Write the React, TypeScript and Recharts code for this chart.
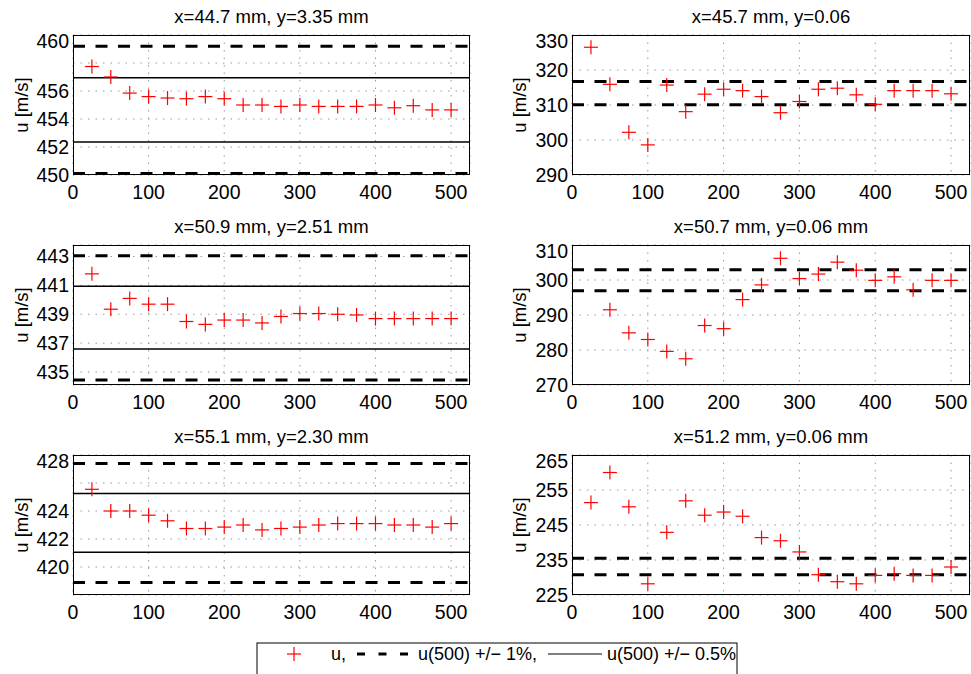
import { ScatterChart, Scatter, XAxis, YAxis, CartesianGrid, ReferenceLine } from "recharts";

// sample counts (x axis)
const steps = [25, 50, 75, 100, 125, 150, 175, 200, 225, 250, 275, 300, 325, 350, 375, 400, 425, 450, 475, 500];
const xTicks = [0, 100, 200, 300, 400, 500];

const titles = [
  "x=44.7 mm, y=3.35 mm",
  "x=45.7 mm, y=0.06",
  "x=50.9 mm, y=2.51 mm",
  "x=50.7 mm, y=0.06 mm",
  "x=55.1 mm, y=2.30 mm",
  "x=51.2 mm, y=0.06 mm",
];

// u [m/s], one list per probe
const u447 = [457.75, 457.0, 455.85, 455.6, 455.5, 455.45, 455.6, 455.45, 455.0, 455.0, 454.9, 455.0, 454.9, 454.9, 454.9, 455.0, 454.8, 454.95, 454.65, 454.65];
const u457 = [326.5, 315.9, 302.2, 298.6, 315.7, 308.1, 313.1, 314.5, 314.1, 312.4, 307.8, 311.0, 314.5, 314.8, 312.9, 310.2, 314.1, 314.1, 314.1, 313.2];
const u509 = [441.8, 439.35, 440.1, 439.7, 439.7, 438.5, 438.3, 438.6, 438.6, 438.4, 438.85, 439.05, 439.05, 439.0, 438.95, 438.7, 438.7, 438.7, 438.7, 438.7];
const u507 = [null, 291.5, 284.9, 283.0, 279.6, 277.5, 287.0, 286.1, 294.4, 298.6, 306.2, 300.4, 301.7, 305.1, 302.8, 299.9, 300.9, 297.2, 299.9, 299.9];
const u551 = [425.55, 424.0, 424.0, 423.7, 423.3, 422.75, 422.75, 422.85, 423.0, 422.65, 422.75, 422.85, 423.0, 423.1, 423.1, 423.1, 423.0, 423.0, 422.85, 423.1];
const u512 = [251.4, 260.0, 250.2, 228.2, 242.9, 251.9, 247.8, 248.7, 247.5, 241.4, 240.5, 237.3, 230.8, 228.8, 228.2, 230.6, 231.1, 230.6, 230.6, 233.0];

const yDomains = [[450, 460], [290, 330], [434.1, 443.8], [270, 310], [418, 428], [225, 265]];
const yTicks = [
  [450, 452, 454, 456, 458, 460],
  [290, 300, 310, 320, 330],
  [435, 437, 439, 441, 443],
  [270, 280, 290, 300, 310],
  [420, 422, 424, 426, 428],
  [225, 235, 245, 255, 265],
];
// u(500) +/- 1% and +/- 0.5%
const band1 = [[459.2, 450.1], [316.7, 310.1], [443.05, 434.45], [302.9, 296.9], [427.4, 418.9], [235.5, 230.8]];
const band05 = [[456.95, 452.35], [], [440.95, 436.6], [], [425.25, 421.05], []];
const series = [u447, u457, u509, u507, u551, u512];

const FONT = "'Liberation Sans', Arial, Helvetica, sans-serif";
const colLeft = [73, 572];
const colWidth = [397, 398];
const rowTop = [35, 245, 455];
const plotH = 140;
const yAxisW = 60;
const padTop = 5;
const xAxisH = 32;

const Plus = (props: any) => {
  const { cx, cy } = props;
  if (cx == null || cy == null) return null;
  return (
    <g>
      <line x1={cx - 7} x2={cx + 7} y1={cy} y2={cy} stroke="#ff0000" strokeWidth={1.2} />
      <line x1={cx} x2={cx} y1={cy - 7} y2={cy + 7} stroke="#ff0000" strokeWidth={1.2} />
    </g>
  );
};

function Panel({ i }: { i: number }) {
  const col = i % 2;
  const row = Math.floor(i / 2);
  const left = colLeft[col];
  const top = rowTop[row];
  const w = colWidth[col];
  const data = steps
    .map((s, k) => ({ x: s, u: series[i][k] }))
    .filter((d) => d.u != null);

  return (
    <>
      <div style={{ position: "absolute", left: left - yAxisW, top: top - padTop }}>
        <ScatterChart
          width={yAxisW + w + 1}
          height={padTop + plotH + xAxisH}
          margin={{ top: padTop, right: 1, bottom: 0, left: 0 }}
          style={{ fontFamily: FONT }}
        >
          <CartesianGrid stroke="#9a9a9a" strokeDasharray="1.5 6" />
          <XAxis
            type="number"
            dataKey="x"
            domain={[0, 525]}
            ticks={xTicks}
            allowDataOverflow
            axisLine={false}
            tickLine={false}
            tickSize={0}
            tickMargin={10}
            height={xAxisH}
            tick={{ fill: "#000", fontSize: 19.5 }}
          />
          <YAxis
            type="number"
            dataKey="u"
            domain={yDomains[i]}
            ticks={yTicks[i]}
            allowDataOverflow
            axisLine={false}
            tickLine={false}
            tickSize={0}
            tickMargin={4}
            width={yAxisW}
            tick={{ fill: "#000", fontSize: 19.5 }}
          />
          {band1[i].map((v) => (
            <ReferenceLine key={"d" + v} y={v} stroke="#000" strokeWidth={3} strokeDasharray="12 10.5" />
          ))}
          {band05[i].map((v) => (
            <ReferenceLine key={"s" + v} y={v} stroke="#000" strokeWidth={1.5} />
          ))}
          <Scatter data={data} shape={Plus} isAnimationActive={false} />
        </ScatterChart>
      </div>
      <div
        style={{
          position: "absolute",
          left,
          top,
          width: w,
          height: plotH,
          border: "1px solid #000",
          boxSizing: "border-box",
          pointerEvents: "none",
        }}
      />
    </>
  );
}

export default function App() {
  return (
    <div
      style={{
        position: "absolute",
        left: 0,
        top: 0,
        width: 971,
        height: 674,
        overflow: "hidden",
        background: "#fff",
        fontFamily: FONT,
        color: "#000",
      }}
    >
      {[0, 1, 2, 3, 4, 5].map((i) => (
        <Panel key={i} i={i} />
      ))}
      <svg
        width={971}
        height={674}
        style={{ position: "absolute", left: 0, top: 0, pointerEvents: "none" }}
        fontFamily={FONT}
      >
        {titles.map((t, i) => {
          const col = i % 2;
          const top = rowTop[Math.floor(i / 2)];
          return (
            <text key={t} x={colLeft[col] + colWidth[col] / 2} y={top - 12} fontSize={18.5} textAnchor="middle">
              {t}
            </text>
          );
        })}
        {titles.map((t, i) => {
          const x = i % 2 === 0 ? 28 : 526;
          const y = rowTop[Math.floor(i / 2)] + plotH / 2;
          return (
            <text key={"l" + t} x={x} y={y} fontSize={18.5} textAnchor="middle" transform={`rotate(-90 ${x} ${y})`}>
              u [m/s]
            </text>
          );
        })}
        <g transform="translate(256 642)">
          <rect x={1} y={1} width={480} height={50} fill="#fff" stroke="#000" strokeWidth={1} />
          <line x1={31} x2={45} y1={12} y2={12} stroke="#ff0000" strokeWidth={1.2} />
          <line x1={38} x2={38} y1={5} y2={19} stroke="#ff0000" strokeWidth={1.2} />
          <text x={75} y={18} fontSize={18}>u,</text>
          <line x1={101} x2={155} y1={12} y2={12} stroke="#000" strokeWidth={3} strokeDasharray="8 13.5" />
          <text x={162} y={18} fontSize={18}>u(500) +/− 1%,</text>
          <line x1={292} x2={346} y1={12} y2={12} stroke="#000" strokeWidth={1.2} />
          <text x={351} y={18} fontSize={18}>u(500) +/− 0.5%</text>
        </g>
      </svg>
    </div>
  );
}
